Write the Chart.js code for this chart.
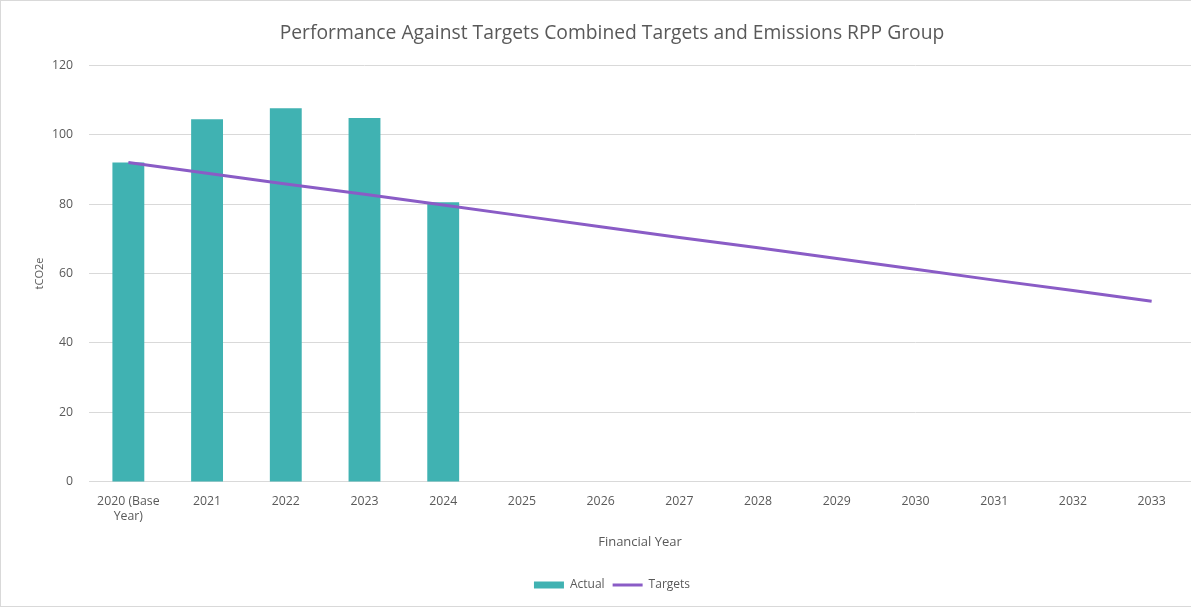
<!DOCTYPE html>
<html>
<head>
<meta charset="utf-8">
<script src="https://cdn.jsdelivr.net/npm/chart.js@4/dist/chart.umd.min.js"></script>
<style>
  html, body { margin: 0; padding: 0; background: #fff; }
  #wrap { position: relative; width: 1191px; height: 607px; box-sizing: border-box; border-top: 1px solid #d9d9d9; border-left: 1px solid #d9d9d9; border-bottom: 1px solid #d9d9d9; }
</style>
</head>
<body>
<div id="wrap"><canvas id="targetsChart"></canvas></div>
<script>
const years = [["2020 (Base", "Year)"], "2021", "2022", "2023", "2024", "2025", "2026", "2027", "2028", "2029", "2030", "2031", "2032", "2033"];
const actual = [92, 104.4, 107.6, 104.8, 80.5, null, null, null, null, null, null, null, null, null];
const targets = [92, 88.9, 85.8, 82.8, 79.7, 76.6, 73.5, 70.4, 67.4, 64.3, 61.2, 58.1, 55.1, 52];
const yTicks = [0, 20, 40, 60, 80, 100, 120];

const teal = "#40B2B2";
const purple = "#8A5CC6";
const grey = "#595959";
const font = "'Open Sans', 'Liberation Sans', sans-serif";

new Chart(document.getElementById("targetsChart").getContext("2d"), {
  data: {
    labels: years,
    datasets: [
      {
        type: "line",
        label: "Targets",
        data: targets,
        borderColor: purple,
        backgroundColor: purple,
        borderWidth: 3,
        pointRadius: 0,
        tension: 0
      },
      {
        type: "bar",
        label: "Actual",
        data: actual,
        backgroundColor: teal,
        barPercentage: 0.405,
        categoryPercentage: 1.0
      }
    ]
  },
  options: {
    responsive: true,
    maintainAspectRatio: false,
    animation: false,
    layout: { padding: { left: 28, right: -4, top: 6, bottom: 5 } },
    plugins: {
      title: {
        display: true,
        text: "Performance Against Targets Combined Targets and Emissions RPP Group",
        color: grey,
        font: { family: font, size: 19.3, weight: "normal" },
        padding: { top: 15, bottom: 20 }
      },
      legend: {
        position: "bottom",
        labels: {
          color: grey,
          font: { family: font, size: 12 },
          usePointStyle: true,
          pointStyleWidth: 30,
          boxHeight: 7,
          padding: 8,
          generateLabels: function(chart) {
            return [
              { text: "Actual", fillStyle: teal, strokeStyle: teal, lineWidth: 0, pointStyle: "rect", datasetIndex: 1, fontColor: grey },
              { text: "Targets", fillStyle: purple, strokeStyle: purple, lineWidth: 3, pointStyle: "line", datasetIndex: 0, fontColor: grey }
            ];
          }
        }
      },
      tooltip: { enabled: false }
    },
    scales: {
      x: {
        grid: { display: false },
        border: { color: "#d9d9d9" },
        ticks: { color: grey, font: { family: font, size: 12.3 }, maxRotation: 0, autoSkip: false, padding: 4 },
        title: { display: true, text: "Financial Year", color: grey, font: { family: font, size: 13 }, padding: { top: 7, bottom: 21 } },
        afterFit: function(axis) { axis.paddingLeft = 0; axis.paddingRight = 0; }
      },
      y: {
        min: 0,
        max: 120,
        afterBuildTicks: function(axis) { axis.ticks = yTicks.map(v => ({ value: v })); },
        afterFit: function(axis) { axis.width = 60; },
        grid: { color: "#d9d9d9", drawTicks: false },
        border: { display: false },
        ticks: { color: grey, font: { family: font, size: 12.3 }, padding: 16 },
        title: { display: true, text: "tCO2e", color: grey, font: { family: font, size: 11 }, padding: { top: 4, bottom: 5 } }
      }
    }
  }
});
</script>
</body>
</html>
